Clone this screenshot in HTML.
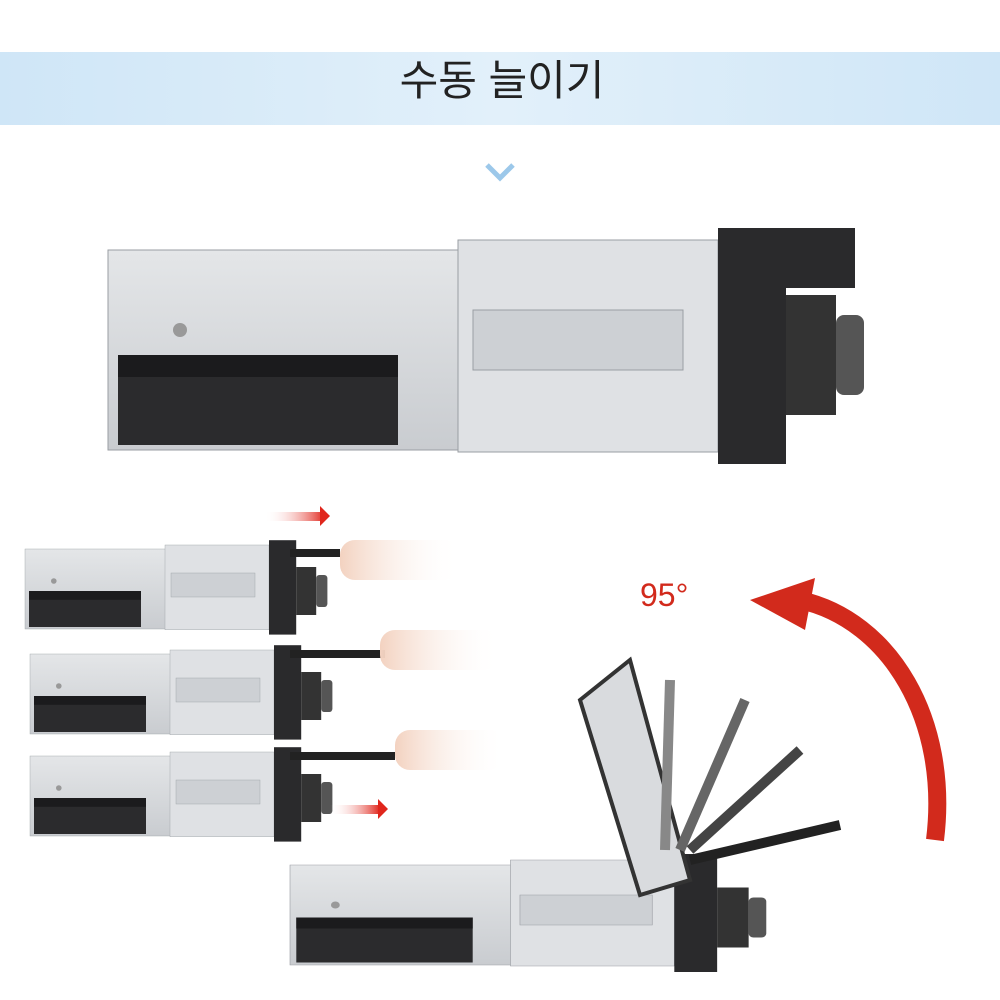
<!DOCTYPE html>
<html><head><meta charset="utf-8"><style>
html,body{margin:0;padding:0;background:#fff;width:1000px;height:1000px;overflow:hidden}
</style></head><body>
<svg width="1000" height="1000" viewBox="0 0 1000 1000" xmlns="http://www.w3.org/2000/svg">
<defs>
<linearGradient id="hb" x1="0" x2="1" y1="0" y2="0">
<stop offset="0" stop-color="#cfe6f7"/><stop offset="0.5" stop-color="#e2f0fa"/><stop offset="1" stop-color="#cfe6f7"/></linearGradient>
<linearGradient id="met" x1="0" x2="0" y1="0" y2="1">
<stop offset="0" stop-color="#e4e6e8"/><stop offset="1" stop-color="#c9ccd0"/></linearGradient>
<linearGradient id="red" x1="0" x2="1"><stop offset="0" stop-color="#fff" stop-opacity="0"/><stop offset="1" stop-color="#e0261c"/></linearGradient>
<linearGradient id="arm" x1="0" x2="1"><stop offset="0" stop-color="#f3d2c0"/><stop offset="1" stop-color="#fff" stop-opacity="0"/></linearGradient>
<g id="unit">
<rect x="0" y="10" width="610" height="200" fill="url(#met)" stroke="#9a9ea3"/>
<rect x="350" y="0" width="260" height="212" fill="#dfe1e4" stroke="#9a9ea3"/>
<rect x="365" y="70" width="210" height="60" fill="#cdd0d4" stroke="#9a9ea3"/>
<rect x="10" y="115" width="280" height="90" fill="#2b2b2d"/>
<rect x="10" y="115" width="280" height="22" fill="#1b1b1d"/>
<rect x="610" y="-12" width="68" height="236" fill="#2a2a2c"/>
<rect x="678" y="55" width="50" height="120" fill="#333"/>
<rect x="728" y="75" width="28" height="80" fill="#555" rx="8"/>
<circle cx="72" cy="90" r="7" fill="#999"/>
</g>
</defs>
<rect x="0" y="52" width="1000" height="73" fill="url(#hb)"/>
<text x="502" y="95" text-anchor="middle" font-family="'Liberation Sans','Noto Sans CJK KR',sans-serif" font-size="42" fill="#222">수동 늘이기</text>
<polyline points="487,165 500,178 513,165" fill="none" stroke="#9cc8ea" stroke-width="5"/>
<use href="#unit" transform="translate(108,240)"/>
<rect x="780" y="228" width="75" height="60" fill="#2a2a2c"/>
<g transform="translate(25,545) scale(0.4)"><use href="#unit"/></g>
<g transform="translate(30,650) scale(0.4)"><use href="#unit"/></g>
<g transform="translate(30,752) scale(0.4)"><use href="#unit"/></g>
<rect x="290" y="549" width="50" height="8" fill="#222"/>
<rect x="290" y="650" width="95" height="8" fill="#222"/>
<rect x="290" y="752" width="105" height="8" fill="#222"/>
<rect x="340" y="540" width="120" height="40" fill="url(#arm)" rx="15"/>
<rect x="380" y="630" width="120" height="40" fill="url(#arm)" rx="15"/>
<rect x="395" y="730" width="110" height="40" fill="url(#arm)" rx="15"/>
<rect x="265" y="512" width="60" height="9" fill="url(#red)"/>
<polygon points="320,506 330,516 320,526" fill="#e0261c"/>
<rect x="330" y="805" width="50" height="9" fill="url(#red)"/>
<polygon points="378,799 388,809 378,819" fill="#e0261c"/>
<g transform="translate(290,860) scale(0.63,0.5)"><use href="#unit"/></g>
<polygon points="580,700 630,660 690,880 640,895" fill="#d9dbde" stroke="#333" stroke-width="4"/>
<line x1="670" y1="680" x2="665" y2="850" stroke="#888" stroke-width="10"/>
<line x1="745" y1="700" x2="680" y2="850" stroke="#666" stroke-width="10"/>
<line x1="800" y1="750" x2="690" y2="850" stroke="#444" stroke-width="10"/>
<line x1="840" y1="825" x2="690" y2="860" stroke="#222" stroke-width="10"/>
<path d="M935,840 C950,720 890,620 800,600" fill="none" stroke="#d22a1c" stroke-width="18"/>
<polygon points="750,600 815,578 805,630" fill="#d22a1c"/>
<text x="640" y="606" font-family="'Liberation Sans',sans-serif" font-size="32" fill="#d22a1c">95°</text>
</svg>
</body></html>
